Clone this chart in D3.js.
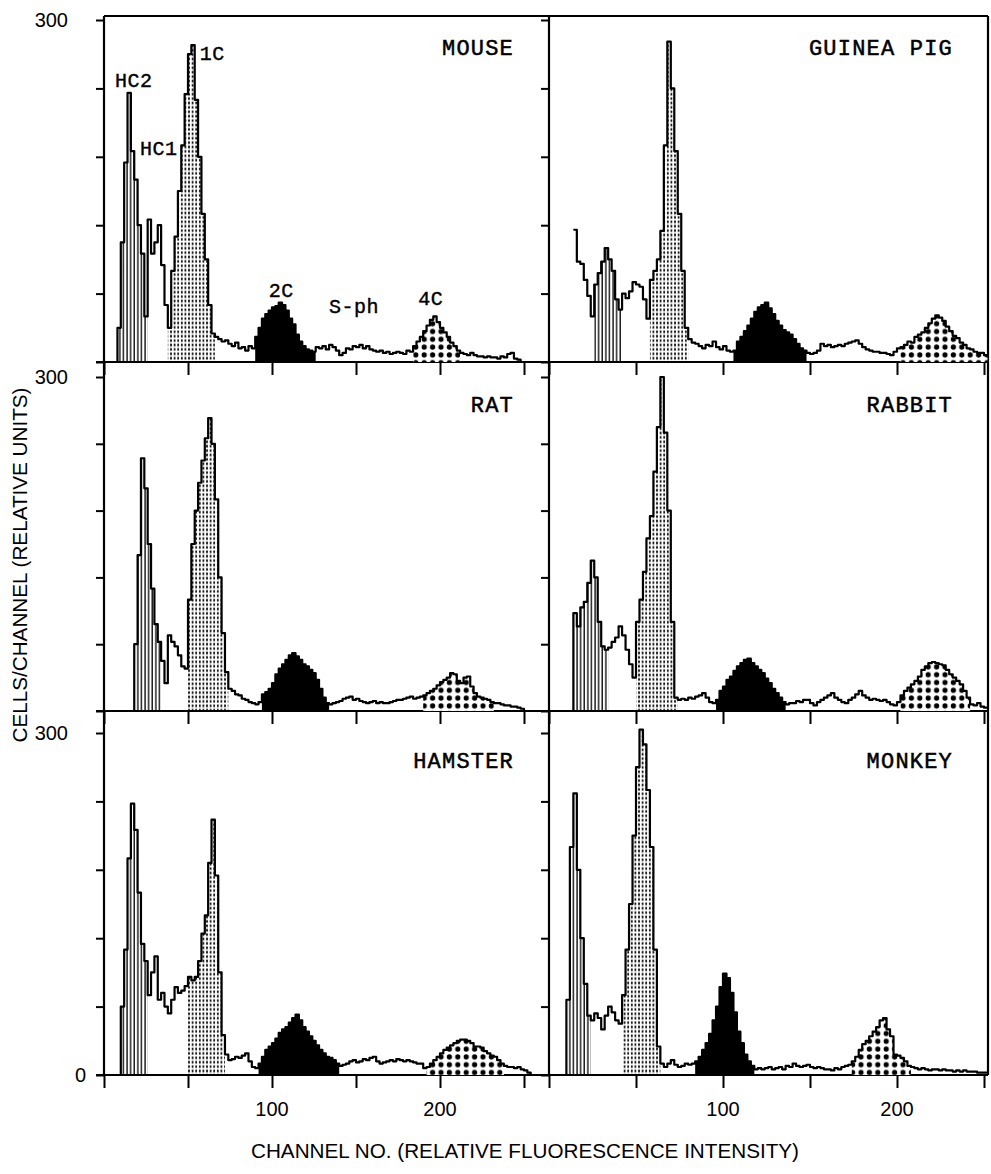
<!DOCTYPE html>
<html>
<head>
<meta charset="utf-8">
<script src="https://cdn.jsdelivr.net/npm/d3@7"></script>
<style>
  body { margin: 0; background: #fff; }
  svg { display: block; }
</style>
</head>
<body>
<div id="chart"></div>
<script>
// DNA histograms, bins are 2 channels wide starting at channel 0
const binWidth = 2;
const species = ['MOUSE', 'GUINEA PIG', 'RAT', 'RABBIT', 'HAMSTER', 'MONKEY'];

const mouse = [0, 0, 0, 0, 30, 105, 175, 236, 185, 160, 120, 95, 40, 125, 95, 105, 120, 85, 50, 30,
  80, 110, 150, 190, 235, 270, 278, 230, 180, 130, 90, 50, 25, 22, 20, 18, 19, 16, 14, 17, 12, 13, 10, 14, 12,
  22, 30, 38, 42, 45, 48, 49, 52, 50, 45, 38, 33, 24, 18, 14, 11, 10, 9,
  13, 12, 14, 11, 15, 13, 10, 6, 8, 12, 11, 14, 13, 15, 12, 14, 11, 10, 9, 10, 8, 9, 7, 8, 9, 8, 7, 10, 9,
  14, 18, 22, 27, 32, 37, 40, 35, 30, 26, 22, 17, 14, 10,
  8, 7, 6, 8, 6, 5, 5, 4, 5, 4, 4, 3, 5, 4, 7, 8, 3, 2, 0];
const guineaPig = [null, null, null, null, null, null, null, 116, 88, 86, 72, 58, 40,
  68, 78, 88, 100, 90, 80, 55, 46, 60, 56, 62, 70, 68, 66, 55, 38,
  72, 80, 90, 115, 190, 281, 240, 185, 130, 80, 30,
  20, 17, 16, 14, 12, 15, 14, 18, 13, 11, 14, 10, 9,
  10, 18, 22, 27, 32, 38, 44, 48, 50, 52, 47, 42, 36, 32, 28, 26, 24, 20, 16, 12, 10,
  8, 7, 8, 10, 16, 14, 15, 13, 14, 15, 14, 16, 17, 18, 19, 16, 13, 11, 10, 9, 9, 8, 8, 7, 6, 9, 12,
  13, 15, 18, 17, 22, 24, 26, 30, 34, 38, 41, 39, 36, 31, 27, 23, 21, 17, 15, 12, 11, 9, 8, 8, 6];
const rat = [0, 0, 0, 0, 0, 0, 0, 0, 0, 60, 140, 227, 200, 150, 110, 78, 62,
  45, 25, 68, 62, 58, 50, 40, 38,
  100, 150, 180, 205, 225, 245, 263, 240, 190, 120, 70, 35,
  20, 18, 15, 14, 11, 10, 8, 7, 6, 8,
  15, 17, 20, 25, 33, 38, 42, 46, 50, 52, 49, 46, 42, 40, 37, 34, 28, 20, 12, 7,
  6, 7, 8, 9, 11, 12, 13, 10, 11, 9, 8, 7, 8, 9, 7, 8, 7, 7, 8, 9, 10, 10, 11, 12, 13, 11, 12, 13,
  14, 16, 18, 20, 23, 26, 28, 30, 34, 33, 27, 25, 30, 31, 22, 16, 13, 12, 11, 10, 8,
  7, 7, 6, 5, 5, 4, 4, 3, 2, 0];
const rabbit = [0, 0, 0, 0, 0, 0, 0, 88, 76, 93, 98, 115, 135, 120, 80, 58, 55,
  57, 62, 66, 76, 68, 55, 42, 30,
  80, 100, 125, 155, 175, 215, 255, 300, 250, 180, 80, 12,
  10, 11, 10, 12, 11, 13, 14, 16, 12, 8, 7,
  10, 18, 22, 28, 31, 36, 40, 43, 46, 47, 43, 40, 37, 34, 29, 25, 20, 16, 12, 8,
  6, 7, 7, 9, 8, 10, 10, 7, 5, 8, 10, 12, 14, 16, 12, 10, 8, 7, 10, 12, 15, 18, 14, 12, 10, 11, 10, 9, 10, 8, 6, 5, 8,
  14, 18, 21, 24, 27, 31, 37, 40, 43, 44, 43, 42, 41, 37, 33, 30, 27, 24, 18, 12,
  6, 5, 7, 4, 3];
const hamster = [0, 0, 0, 0, 0, 60, 110, 190, 238, 215, 160, 115, 100,
  70, 90, 104, 66, 72, 60, 54, 66, 77, 72, 74, 78, 86,
  83, 86, 100, 124, 140, 186, 224, 175, 90, 35,
  18, 13, 14, 16, 15, 17, 19, 12, 7, 6,
  10, 16, 22, 25, 28, 32, 37, 40, 42, 46, 50, 53, 48, 42, 38, 34, 30, 26, 22, 19, 16, 15, 13, 10,
  8, 9, 10, 12, 13, 11, 12, 14, 13, 15, 16, 12, 10, 11, 12, 13, 12, 14, 13, 12, 13, 12, 11, 10, 10, 6,
  7, 10, 13, 16, 19, 22, 24, 26, 28, 30, 31, 31, 30, 28, 25, 25, 24, 21, 19, 17, 16, 13, 10,
  8, 7, 7, 6, 7, 5, 4, 2, 0];
const monkey = [0, 0, 0, 0, 0, 66, 200, 247, 180, 120, 80, 52,
  48, 54, 50, 40, 52, 60, 55, 48, 45,
  70, 110, 150, 210, 270, 303, 290, 250, 200, 110, 25,
  10, 7, 10, 13, 9, 7, 8, 10, 9, 10,
  12, 16, 22, 28, 36, 48, 60, 77, 89, 85, 72, 55, 38, 28, 18, 12, 8,
  5, 6, 5, 6, 7, 5, 6, 7, 5, 8, 7, 10, 8, 7, 8, 9, 7, 6, 7, 6, 5, 5, 4, 6, 5, 7, 8, 9,
  12, 16, 22, 27, 30, 34, 38, 42, 48, 50, 40, 34, 18, 17, 15, 12, 8,
  7, 6, 5, 6, 5, 4, 5, 5, 4, 5, 4, 4, 3, 4, 3, 4, 3, 3, 3, 2, 2, 2];
const histograms = [mouse, guineaPig, rat, rabbit, hamster, monkey];

// gated channel ranges [from, to) for each peak, in species order
const hcGates = [[8, 26], [26, 42], [18, 34], [14, 34], [10, 26], [10, 24]];
const c1Gates = [[38, 66], [58, 80], [50, 74], [50, 74], [50, 72], [42, 64]];
const c2Gates = [[90, 126], [106, 148], [94, 134], [96, 136], [92, 140], [84, 118]];
const c4Gates = [[184, 212], [202, 252], [190, 232], [202, 242], [192, 238], [174, 208]];

// peak names written in the mouse panel: [text, channel, count]
const mouseNotes = [['HC2', 6.5, 241], ['HC1', 21.5, 182], ['1C', 57, 265],
  ['2C', 98, 57], ['S-ph', 134, 43], ['4C', 187, 50]];

const xTicks = [0, 50, 100, 150, 200, 250];
const xLabels = [100, 200];
const yTicks = [0, 60, 120, 180, 240, 300];

const sans = '"Liberation Sans", Arial, sans-serif';
const mono = '"Liberation Mono", "Courier New", monospace';

const svg = d3.select('#chart').append('svg')
  .attr('width', 991).attr('height', 1174);

const defs = svg.append('defs');
const hatch = defs.append('pattern').attr('id', 'hatch')
  .attr('patternUnits', 'userSpaceOnUse').attr('width', 3.6).attr('height', 10);
hatch.append('rect').attr('x', 0.4).attr('y', 0).attr('width', 1.3).attr('height', 10).attr('fill', '#000');
const fine = defs.append('pattern').attr('id', 'fine')
  .attr('patternUnits', 'userSpaceOnUse').attr('width', 3.6).attr('height', 4.4);
fine.append('rect').attr('x', 1).attr('y', 0.5).attr('width', 1.6).attr('height', 2.6).attr('fill', '#000');
const dots = defs.append('pattern').attr('id', 'dots')
  .attr('patternUnits', 'userSpaceOnUse').attr('width', 8.4).attr('height', 7.8);
dots.append('rect').attr('width', 8.4).attr('height', 7.8).attr('fill', '#fff');
dots.append('circle').attr('cx', 4.2).attr('cy', 3.9).attr('r', 2.6).attr('fill', '#000');

const xCols = [
  d3.scaleLinear().domain([0, 250]).range([104, 524]),
  d3.scaleLinear().domain([0, 250]).range([549, 984])
];
const yRows = [
  d3.scaleLinear().domain([0, 300]).range([362, 20]),
  d3.scaleLinear().domain([0, 300]).range([711, 377]),
  d3.scaleLinear().domain([0, 300]).range([1075, 733])
];
const colRight = [549, 988];
const frameTop = 16;

// frame
const frame = svg.append('g').attr('stroke', '#000').attr('stroke-width', 2.2).attr('fill', 'none');
frame.append('line').attr('x1', xCols[0](0)).attr('x2', colRight[1])
  .attr('y1', frameTop).attr('y2', frameTop);
[xCols[0](0), colRight[0], colRight[1]].forEach((x) => {
  frame.append('line').attr('x1', x).attr('x2', x)
    .attr('y1', frameTop).attr('y2', yRows[2](0));
});
yRows.forEach((y) => {
  frame.append('line').attr('x1', xCols[0](0) - 8).attr('x2', colRight[1])
    .attr('y1', y(0)).attr('y2', y(0));
});

species.forEach((name, i) => {
  const col = i % 2;
  const row = Math.floor(i / 2);
  const x = xCols[col];
  const y = yRows[row];
  const g = svg.append('g');
  const pts = histograms[i].map((v, k) => ({ ch: k * binWidth, v }));
  pts.push({ ch: pts.length * binWidth, v: pts[pts.length - 1].v });

  const area = d3.area()
    .x((d) => x(d.ch)).y0(y(0)).y1((d) => y(d.v))
    .curve(d3.curveStepAfter);

  const gated = (gate) => {
    const sel = pts.filter((d) => d.ch >= gate[0] && d.ch < gate[1] && d.v != null);
    sel.push({ ch: gate[1], v: sel[sel.length - 1].v });
    return sel;
  };

  [[hcGates, 'url(#hatch)'], [c1Gates, 'url(#fine)'], [c2Gates, '#000'], [c4Gates, 'url(#dots)']]
    .forEach(([gates, fill]) => {
      g.append('path').datum(gated(gates[i]))
        .attr('fill', fill).attr('d', area);
    });

  const line = d3.line()
    .defined((d) => d.v != null)
    .x((d) => x(d.ch)).y((d) => y(d.v))
    .curve(d3.curveStepAfter);

  g.append('path').datum(pts)
    .attr('fill', 'none').attr('stroke', '#000')
    .attr('stroke-width', 2.2).attr('stroke-linejoin', 'round')
    .attr('d', line);

  // axes ticks
  g.append('g').attr('transform', `translate(${x(0)},0)`)
    .call(d3.axisLeft(y).tickValues(yTicks).tickSize(8).tickFormat(''))
    .call((a) => a.select('.domain').remove())
    .call((a) => a.selectAll('line').attr('stroke-width', 2));
  g.append('g').attr('transform', `translate(0,${y(0)})`)
    .call(d3.axisBottom(x).tickValues(xTicks).tickSize(13).tickFormat(''))
    .call((a) => a.select('.domain').remove())
    .call((a) => a.selectAll('line').attr('stroke-width', 2));

  g.append('text')
    .attr('x', colRight[col] - 35).attr('y', y(300) + 35)
    .attr('text-anchor', 'end')
    .attr('font-family', mono).attr('font-size', 22)
    .attr('letter-spacing', 1.2)
    .attr('stroke', '#000').attr('stroke-width', 0.5)
    .text(name);

  if (row === 2) {
    xLabels.forEach((t) => {
      g.append('text')
        .attr('x', x(t)).attr('y', y(0) + 41)
        .attr('text-anchor', 'middle')
        .attr('font-family', sans).attr('font-size', 20)
        .text(t);
    });
  }
  if (col === 0) {
    g.append('text')
      .attr('x', x(0) - 36).attr('y', y(300)).attr('dy', '0.35em')
      .attr('text-anchor', 'end')
      .attr('font-family', sans).attr('font-size', 20)
      .text('300');
    if (row === 2) {
      g.append('text')
        .attr('x', x(0) - 18).attr('y', y(0)).attr('dy', '0.35em')
        .attr('text-anchor', 'end')
        .attr('font-family', sans).attr('font-size', 20)
        .text('0');
    }
  }
  if (i === 0) {
    mouseNotes.forEach(([t, ch, v]) => {
      g.append('text')
        .attr('x', x(ch)).attr('y', y(v))
        .attr('font-family', mono).attr('font-size', 20)
        .attr('letter-spacing', 0.5)
        .attr('stroke', '#000').attr('stroke-width', 0.4)
        .text(t);
    });
  }
});

svg.append('text')
  .attr('x', 525).attr('y', 1158)
  .attr('text-anchor', 'middle')
  .attr('font-family', sans).attr('font-size', 20)
  .attr('textLength', 548).attr('lengthAdjust', 'spacingAndGlyphs')
  .text('CHANNEL NO. (RELATIVE FLUORESCENCE INTENSITY)');

svg.append('text')
  .attr('transform', 'translate(27,565) rotate(-90)')
  .attr('text-anchor', 'middle')
  .attr('font-family', sans).attr('font-size', 20)
  .attr('textLength', 355).attr('lengthAdjust', 'spacingAndGlyphs')
  .text('CELLS/CHANNEL (RELATIVE UNITS)');
</script>
</body>
</html>
